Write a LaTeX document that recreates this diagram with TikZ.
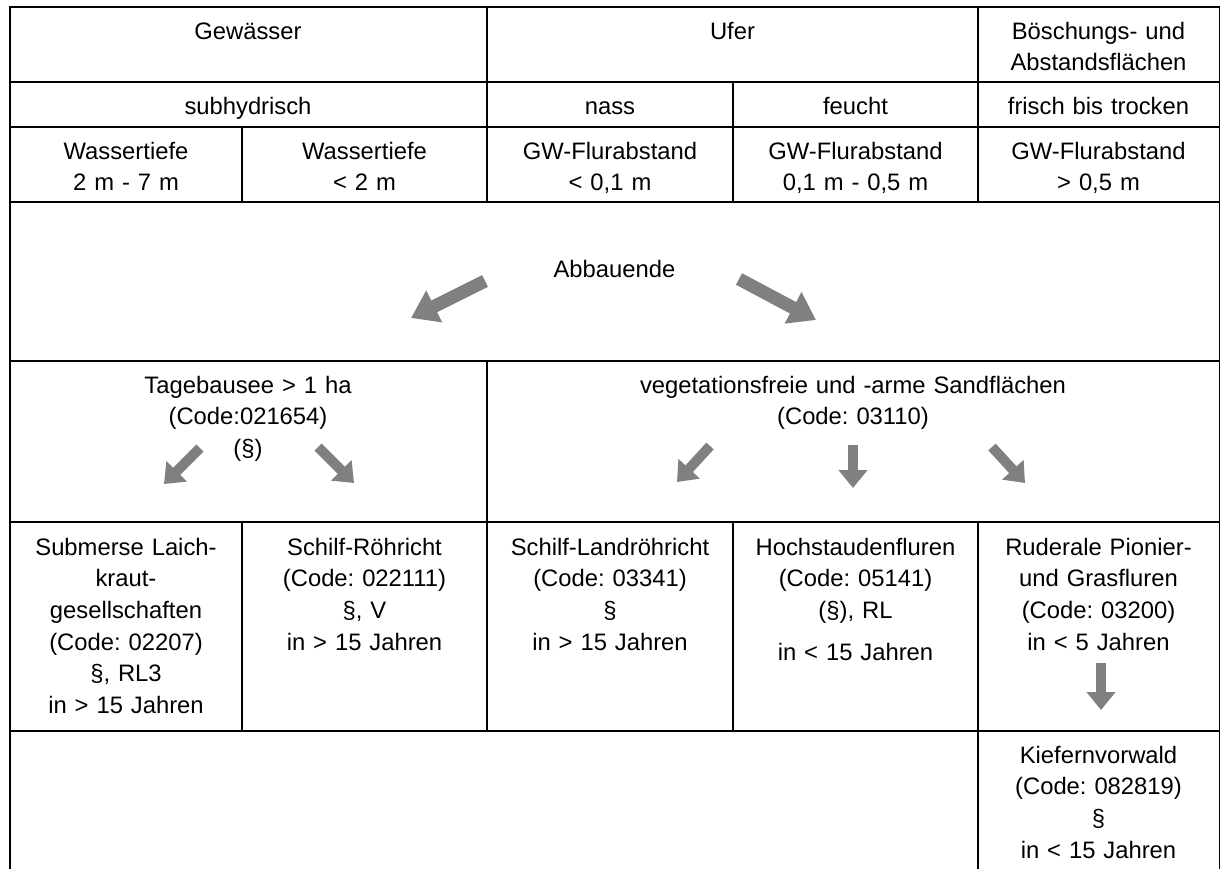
\documentclass[tikz,border=0pt]{standalone}
\usepackage{fontspec}
\setmainfont{Liberation Sans}
\usetikzlibrary{arrows.meta}
\definecolor{arrowgray}{RGB}{128,128,128}
\frenchspacing
\begin{document}
\begin{tikzpicture}[x=0.5pt,y=-0.5pt,
  grid/.style={line width=1pt, draw=black},
  cell/.style={anchor=base, align=center, inner sep=0pt, text width=#1,
    font=\fontsize{11.9pt}{15.85pt}\selectfont\frenchspacing},
  cell/.default=110pt,
  bigarrow/.style={draw=arrowgray, line width=6.5pt, -{Triangle[length=13pt,width=17pt]}},
  smallarrow/.style={draw=arrowgray, line width=5pt, -{Triangle[length=9pt,width=14pt]}}
]
\useasboundingbox (0,0) rectangle (1220,868);

% ---------- grid ----------
\draw[grid] (9.5,872) -- (9.5,7) -- (1219.5,7) -- (1219.5,872);
\foreach \yy in {82,127,202,361,522,731}
  \draw[grid] (9.5,\yy) -- (1219.5,\yy);
\draw[grid] (242,127) -- (242,202);
\draw[grid] (242,522) -- (242,731);
\draw[grid] (487,7) -- (487,202);
\draw[grid] (487,361) -- (487,731);
\draw[grid] (733,82) -- (733,202);
\draw[grid] (733,522) -- (733,731);
\draw[grid] (978,7) -- (978,202);
\draw[grid] (978,522) -- (978,872);

% ---------- row 1 ----------
\node[cell=220pt] (gew) at (248,39) {Gewässer};
\node[cell=220pt] (ufer) at (732.5,39) {Ufer};
\node[cell] (boe) at (1098.5,39) {Böschungs- und\\Abstandsflächen};

% ---------- row 2 ----------
\node[cell=220pt] (sub) at (248,114) {subhydrisch};
\node[cell] (nass) at (610,114) {nass};
\node[cell] (feucht) at (855.5,114) {feucht};
\node[cell] (frisch) at (1098.5,114) {frisch bis trocken};

% ---------- row 3 ----------
\node[cell] (w1) at (126,159) {Wassertiefe\\2 m - 7 m};
\node[cell] (w2) at (364.5,159) {Wassertiefe\\< 2 m};
\node[cell] (gw1) at (610,159) {GW-Flurabstand\\< 0,1 m};
\node[cell] (gw2) at (855.5,159) {GW-Flurabstand\\0,1 m - 0,5 m};
\node[cell] (gw3) at (1098.5,159) {GW-Flurabstand\\> 0,5 m};

% ---------- row 4 ----------
\node[cell] (abb) at (614.5,277) {Abbauende};

% ---------- row 5 ----------
\node[cell=220pt] (tage) at (248,393) {Tagebausee > 1 ha\\(Code:021654)\\(§)};
\node[cell=350pt] (veg) at (853,393) {vegetationsfreie und -arme Sandflächen\\(Code: 03110)};

% ---------- row 6 ----------
\node[cell] (subm) at (126,555) {Submerse Laich-\\kraut-\\gesellschaften\\(Code: 02207)\\§, RL3\\in > 15 Jahren};
\node[cell] (schilf) at (364.5,555) {Schilf-Röhricht\\(Code: 022111)\\§, V\\in > 15 Jahren};
\node[cell] (land) at (610,555) {Schilf-Landröhricht\\(Code: 03341)\\§\\in > 15 Jahren};
\node[cell] (hoch) at (855.5,555) {Hochstaudenfluren\\(Code: 05141)\\(§), RL\\[5pt]in < 15 Jahren};
\node[cell] (rud) at (1098.5,555) {Ruderale Pionier-\\und Grasfluren\\(Code: 03200)\\in < 5 Jahren};

% ---------- row 7 ----------
\node[cell] (kief) at (1098.5,763) {Kiefernvorwald\\(Code: 082819)\\§\\in < 15 Jahren};

% ---------- arrows ----------
\coordinate (a1s) at (485,281);  \coordinate (a1e) at (411,318);
\coordinate (a2s) at (739,279);  \coordinate (a2e) at (816,320);
\draw[bigarrow] (a1s) -- (a1e);
\draw[bigarrow] (a2s) -- (a2e);

\coordinate (t1s) at (200,448);  \coordinate (t1e) at (164,484);
\coordinate (t2s) at (318,447);  \coordinate (t2e) at (354,483);
\draw[smallarrow] (t1s) -- (t1e);
\draw[smallarrow] (t2s) -- (t2e);

\coordinate (v1s) at (710,446);  \coordinate (v1e) at (677,482);
\coordinate (v2s) at (853,445);  \coordinate (v2e) at (853,488);
\coordinate (v3s) at (992,447);  \coordinate (v3e) at (1025,483);
\draw[smallarrow] (v1s) -- (v1e);
\draw[smallarrow] (v2s) -- (v2e);
\draw[smallarrow] (v3s) -- (v3e);

\coordinate (r1s) at (1101,663); \coordinate (r1e) at (1101,710);
\draw[smallarrow] (r1s) -- (r1e);
\end{tikzpicture}
\end{document}
